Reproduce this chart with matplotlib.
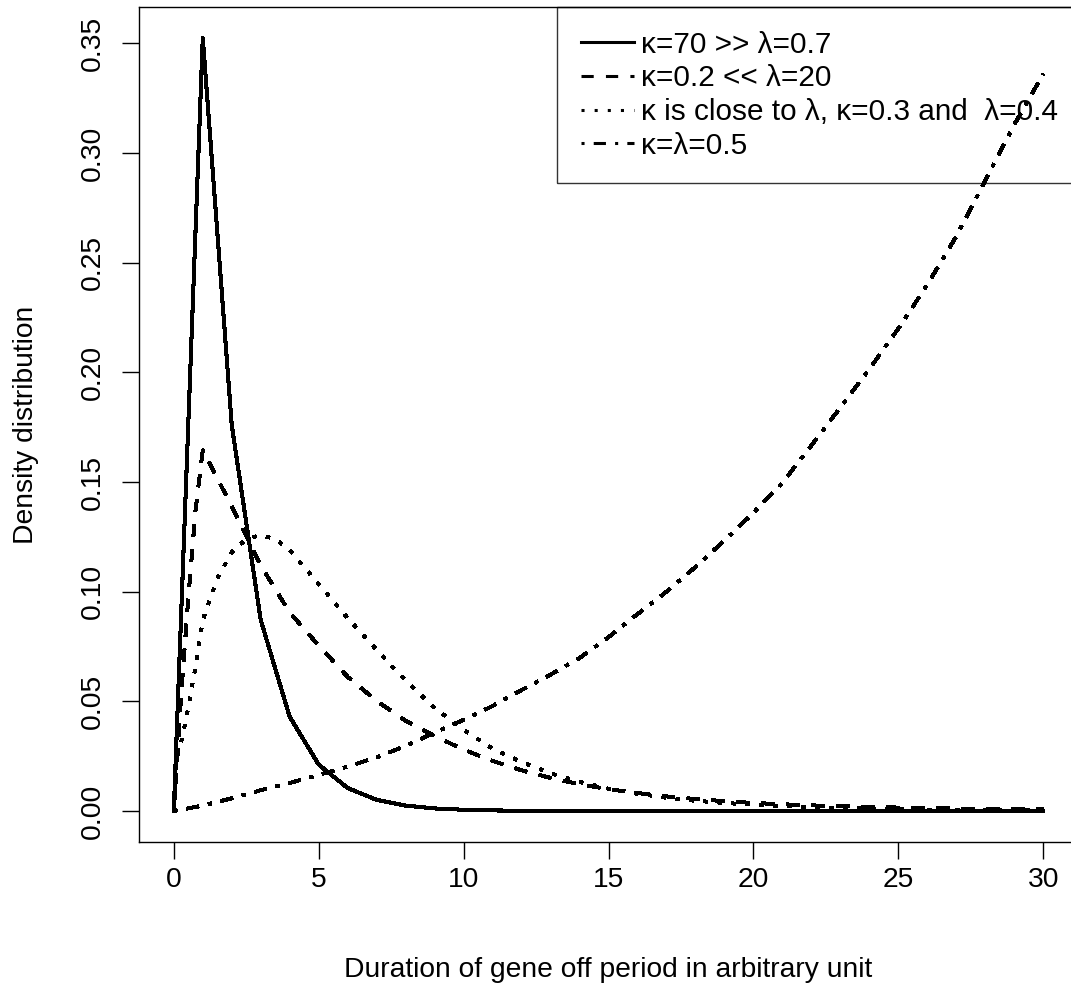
import matplotlib
matplotlib.use("Agg")
import matplotlib.pyplot as plt
from matplotlib.ticker import FormatStrFormatter

plt.rcParams["font.family"] = ["Liberation Sans", "DejaVu Sans"]

# Off-period duration densities for four parameter choices
x_fast = [0, 1, 2, 3, 4, 5, 6, 7, 8, 9, 10, 11, 12, 13, 14, 15,
          16, 17, 18, 19, 20, 21, 22, 23, 24, 25, 26, 27, 28, 29, 30]
y_fast = [0.0, 0.3525, 0.1760, 0.0871, 0.0430, 0.0212, 0.0105, 0.0051,
          0.0025, 0.0012, 0.0006, 0.0003, 0.00015, 0.00007, 0.00003, 0.0,
          0.0, 0.0, 0.0, 0.0, 0.0, 0.0, 0.0, 0.0, 0.0, 0.0, 0.0, 0.0, 0.0,
          0.0, 0.0]

x_slow = [0, 0.25, 0.5, 0.75, 1, 2, 3, 4, 5, 6, 7, 8, 9, 10, 11, 12, 13,
          14, 15, 16, 17, 18, 19, 20, 21, 22, 23, 24, 25, 26, 27, 28, 29, 30]
y_slow = [0.0, 0.052, 0.097, 0.137, 0.1645, 0.139, 0.112, 0.0905, 0.0755,
          0.0612, 0.0502, 0.0412, 0.0342, 0.0280, 0.0229, 0.0186, 0.0151,
          0.0122, 0.0100, 0.0082, 0.0067, 0.0055, 0.0045, 0.0037, 0.0031,
          0.0026, 0.0022, 0.0019, 0.0016, 0.0014, 0.0012, 0.0010, 0.0009,
          0.0008]

x_close = [0, 0.1, 0.25, 0.5, 0.75, 1, 1.5, 2, 2.5, 3, 3.5, 4, 5, 6, 7, 8,
           9, 10, 11, 12, 13, 14, 15, 16, 17, 18, 19, 20, 21, 22, 23, 24,
           25, 26, 27, 28, 29, 30]
y_close = [0.0, 0.024, 0.031, 0.047, 0.066, 0.087, 0.106, 0.118, 0.124,
           0.1258, 0.124, 0.119, 0.1035, 0.088, 0.0735, 0.0595, 0.047, 0.037,
           0.0285, 0.0224, 0.0172, 0.0133, 0.0102, 0.0079, 0.0061, 0.0047,
           0.0037, 0.0029, 0.0023, 0.0018, 0.0014, 0.0011, 0.0009, 0.0007,
           0.0006, 0.0005, 0.0004, 0.0003]

x_equal = [0, 1, 2, 3, 4, 5, 6, 7, 8, 9, 10, 11, 12, 13, 14, 15, 16, 17,
           18, 19, 20, 21, 22, 23, 24, 25, 26, 27, 28, 29, 30]
y_equal = [0.0, 0.0025, 0.0058, 0.0095, 0.0128, 0.0165, 0.0203, 0.0245,
           0.0297, 0.0358, 0.0416, 0.0479, 0.0552, 0.0622, 0.0698, 0.0793,
           0.0898, 0.1000, 0.1113, 0.1234, 0.1360, 0.1497, 0.1667, 0.1840,
           0.2015, 0.2200, 0.2400, 0.2620, 0.2875, 0.3130, 0.3360]

labels = ["\u03ba=70 >> \u03bb=0.7",
          "\u03ba=0.2 << \u03bb=20",
          "\u03ba is close to \u03bb, \u03ba=0.3 and  \u03bb=0.4",
          "\u03ba=\u03bb=0.5"]

x_ticks = [0, 5, 10, 15, 20, 25, 30]
y_ticks = [0.00, 0.05, 0.10, 0.15, 0.20, 0.25, 0.30, 0.35]

FS = 20.3
LEG_FS = 21.4
LW = 2.2

fig = plt.figure(figsize=(10.71, 9.88), dpi=100)
ax = fig.add_axes([139 / 1071, 146 / 988, 939 / 1071, 835 / 988])

series = [
    (x_fast, y_fast, None),
    (x_slow, y_slow, (4, 4)),
    (x_close, y_close, (1, 3.3)),
    (x_equal, y_equal, (1, 3, 4, 3)),
]
handles = []
for (xs, ys, dash), lab in zip(series, labels):
    line, = ax.plot(xs, ys, color="black", lw=LW, label=lab,
                    solid_joinstyle="round", dash_capstyle="butt",
                    antialiased=False)
    if dash is not None:
        line.set_dashes(dash)
    handles.append(line)

# axis ranges padded by 4% as in classic plotting defaults
all_x = x_fast + x_slow + x_close + x_equal
all_y = y_fast + y_slow + y_close + y_equal
xr = max(all_x) - min(all_x)
yr = max(all_y) - min(all_y)
ax.set_xlim(min(all_x) - 0.04 * xr, max(all_x) + 0.04 * xr)
ax.set_ylim(min(all_y) - 0.04 * yr, max(all_y) + 0.04 * yr)

ax.set_xticks(x_ticks)
ax.set_yticks(y_ticks)
ax.yaxis.set_major_formatter(FormatStrFormatter("%.2f"))
ax.tick_params(axis="both", direction="out", length=12.2, width=1.0,
               labelsize=FS, colors="black")
ax.tick_params(axis="x", pad=6)
ax.tick_params(axis="y", pad=11.5)
for t in ax.get_yticklabels():
    t.set_rotation(90)
    t.set_va("center")

for s in ax.spines.values():
    s.set_linewidth(1.0)
    s.set_color("black")

ax.set_xlabel("Duration of gene off period in arbitrary unit", fontsize=FS)
ax.set_ylabel("Density distribution", fontsize=FS)
ax.xaxis.set_label_coords(0.5, -0.1377)
ax.yaxis.set_label_coords(-0.1065, 0.5)

leg = ax.legend(handles=handles, loc="upper right",
                bbox_to_anchor=(0.4452, 0.0, 0.5548, 1.0), mode="expand",
                borderaxespad=0, fontsize=LEG_FS, frameon=True, fancybox=False,
                edgecolor="black", facecolor="none", framealpha=None,
                handlelength=1.78, handletextpad=0.26, labelspacing=0.19,
                borderpad=0.8)
leg.get_frame().set_linewidth(1.0)

fig.savefig("out.png", dpi=100)
